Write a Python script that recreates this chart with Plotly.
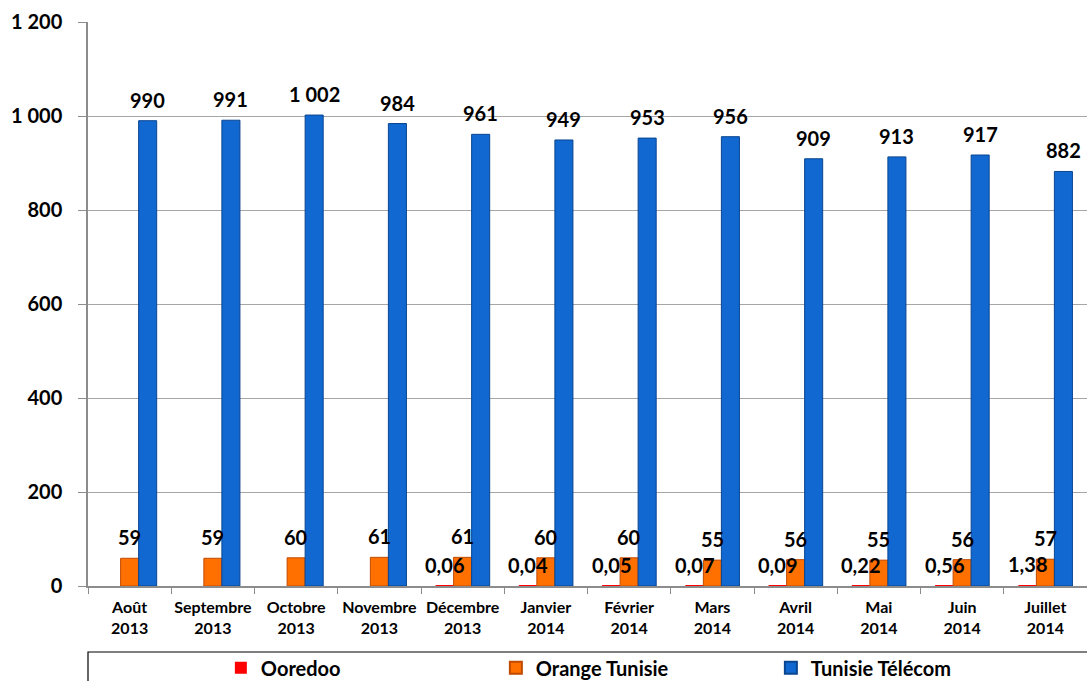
import plotly.graph_objects as go

categories = ["Août<br>2013", "Septembre<br>2013", "Octobre<br>2013", "Novembre<br>2013",
              "Décembre<br>2013", "Janvier<br>2014", "Février<br>2014", "Mars<br>2014",
              "Avril<br>2014", "Mai<br>2014", "Juin<br>2014", "Juillet<br>2014"]
ooredoo = [None, None, None, None, 0.06, 0.04, 0.05, 0.07, 0.09, 0.22, 0.56, 1.38]
orange = [59, 59, 60, 61, 61, 60, 60, 55, 56, 55, 56, 57]
tunisie_telecom = [990, 991, 1002, 984, 961, 949, 953, 956, 909, 913, 917, 882]
y_ticks = [0, 200, 400, 600, 800, 1000, 1200]

FONT = "Lato"


def fr_num(v, dec=0):
    if dec:
        return f"{v:.{dec}f}".replace(".", ",")
    s = f"{int(round(v)):,}".replace(",", " ")
    return s


fig = go.Figure()
fig.add_trace(go.Bar(name="Ooredoo", x=categories, y=ooredoo,
                     marker=dict(color="#FF0000", line=dict(color="#B00000", width=0))))
fig.add_trace(go.Bar(name="Orange Tunisie", x=categories, y=orange,
                     marker=dict(color="#FF7000", line=dict(color="#C04A00", width=1))))
fig.add_trace(go.Bar(name="Tunisie Télécom", x=categories, y=tunisie_telecom,
                     marker=dict(color="#1068D0", line=dict(color="#0A4590", width=1))))

annotations = []
offsets = {0: -18, 1: 0, 2: 18}
for si, (series, dec) in enumerate([(ooredoo, 2), (orange, 0), (tunisie_telecom, 0)]):
    for c, v in zip(categories, series):
        if v is None:
            continue
        annotations.append(dict(x=c, y=v, xref="x", yref="y", text=fr_num(v, dec),
                                showarrow=False, xshift=offsets[si], yshift=21,
                                font=dict(family=FONT, size=20, color="black", weight="bold")))

fig.update_layout(
    width=1087, height=681,
    margin=dict(l=88, r=0, t=22, b=95, autoexpand=False),
    paper_bgcolor="white", plot_bgcolor="white",
    barmode="group", bargap=0.35, bargroupgap=0,
    separators=", ",
    font=dict(family=FONT, color="black"),
    showlegend=True,
    legend=dict(orientation="h", x=0.133, xanchor="left", y=-0.145, yanchor="middle",
                entrywidth=230, entrywidthmode="pixels",
                font=dict(family=FONT, size=20, color="black", weight="bold"),
                bgcolor="rgba(0,0,0,0)", itemsizing="constant"),
    annotations=annotations,
    shapes=[dict(type="rect", xref="paper", yref="paper", x0=0, x1=1.02,
                 y0=-0.19, y1=-0.117, line=dict(color="black", width=1.2),
                 fillcolor="rgba(0,0,0,0)")],
)
fig.update_xaxes(showline=True, linecolor="#8C8C8C", linewidth=1.5, automargin=False,
                 ticks="outside", tickson="boundaries", ticklen=6, tickcolor="#8C8C8C",
                 ticklabelstandoff=6,
                 tickfont=dict(family=FONT, size=16, color="black", weight="bold"),
                 tickangle=0)
fig.update_yaxes(range=[0, 1200], tickvals=y_ticks, ticktext=[fr_num(t) for t in y_ticks],
                 showline=True, linecolor="#8C8C8C", linewidth=1.5, automargin=False,
                 showgrid=True, gridcolor="#A6A6A6", gridwidth=1,
                 ticks="outside", ticklen=8, tickcolor="#8C8C8C",
                 ticklabelstandoff=12,
                 tickfont=dict(family=FONT, size=20, color="black", weight="bold"))

fig.write_html("out.html", config={"displayModeBar": False},
               post_script="document.body.style.margin='0';document.body.style.overflow='hidden';")
